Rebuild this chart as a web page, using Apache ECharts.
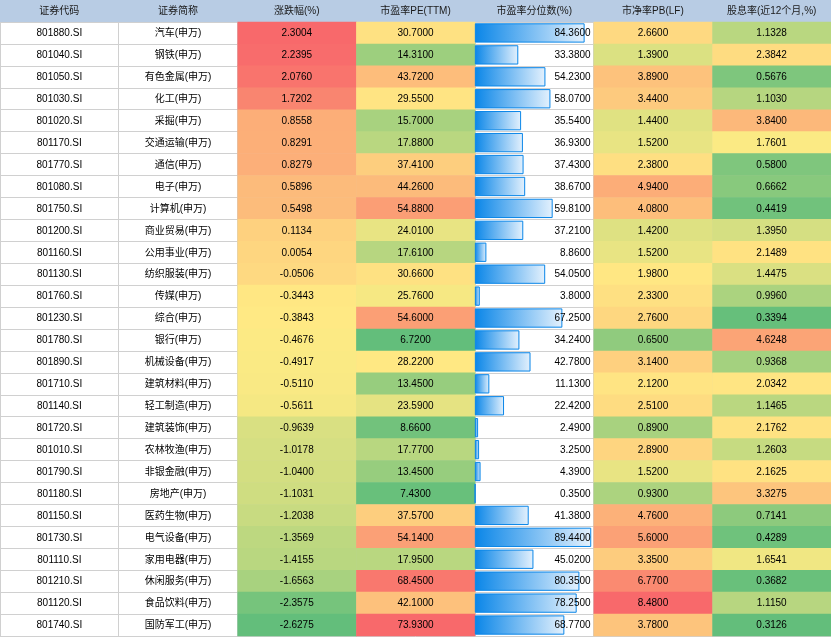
<!DOCTYPE html>
<html><head><meta charset="utf-8">
<script src="https://cdn.jsdelivr.net/npm/echarts@6/dist/echarts.min.js"></script>
<style>html,body{margin:0;padding:0;background:#fff}#c{width:831px;height:638px}</style>
</head><body><div id="c"></div>
<script>
const headers = ['证券代码','证券简称','涨跌幅(%)','市盈率PE(TTM)','市盈率分位数(%)','市净率PB(LF)','股息率(近12个月,%)'];
const codes = ['801880.SI','801040.SI','801050.SI','801030.SI','801020.SI','801170.SI','801770.SI','801080.SI','801750.SI','801200.SI','801160.SI','801130.SI','801760.SI','801230.SI','801780.SI','801890.SI','801710.SI','801140.SI','801720.SI','801010.SI','801790.SI','801180.SI','801150.SI','801730.SI','801110.SI','801210.SI','801120.SI','801740.SI'];
const names = ['汽车(申万)','钢铁(申万)','有色金属(申万)','化工(申万)','采掘(申万)','交通运输(申万)','通信(申万)','电子(申万)','计算机(申万)','商业贸易(申万)','公用事业(申万)','纺织服装(申万)','传媒(申万)','综合(申万)','银行(申万)','机械设备(申万)','建筑材料(申万)','轻工制造(申万)','建筑装饰(申万)','农林牧渔(申万)','非银金融(申万)','房地产(申万)','医药生物(申万)','电气设备(申万)','家用电器(申万)','休闲服务(申万)','食品饮料(申万)','国防军工(申万)'];
const change = [2.3004,2.2395,2.0760,1.7202,0.8558,0.8291,0.8279,0.5896,0.5498,0.1134,0.0054,-0.0506,-0.3443,-0.3843,-0.4676,-0.4917,-0.5110,-0.5611,-0.9639,-1.0178,-1.0400,-1.1031,-1.2038,-1.3569,-1.4155,-1.6563,-2.3575,-2.6275];
const pe = [30.70,14.31,43.72,29.55,15.70,17.88,37.41,44.26,54.88,24.01,17.61,30.66,25.76,54.60,6.72,28.22,13.45,23.59,8.66,17.77,13.45,7.43,37.57,54.14,17.95,68.45,42.10,73.93];
const pePct = [84.36,33.38,54.23,58.07,35.54,36.93,37.43,38.67,59.81,37.21,8.86,54.05,3.80,67.25,34.24,42.78,11.13,22.42,2.49,3.25,4.39,0.35,41.38,89.44,45.02,80.35,78.25,68.77];
const pb = [2.66,1.39,3.89,3.44,1.44,1.52,2.38,4.94,4.08,1.42,1.52,1.98,2.33,2.76,0.65,3.14,2.12,2.51,0.89,2.89,1.52,0.93,4.76,5.60,3.35,6.77,8.48,3.78];
const dividend = [1.1328,2.3842,0.5676,1.1030,3.8400,1.7601,0.5800,0.6662,0.4419,1.3950,2.1489,1.4475,0.9960,0.3394,4.6248,0.9368,2.0342,1.1465,2.1762,1.2603,2.1625,3.3275,0.7141,0.4289,1.6541,0.3682,1.1150,0.3126];

const GREEN=[99,190,123], YELLOW=[255,235,132], RED=[248,105,107];
function median(a){const s=[...a].sort((x,y)=>x-y);const n=s.length;return n%2?s[(n-1)/2]:(s[n/2-1]+s[n/2])/2;}
function mix(a,b,t){return 'rgb('+a.map((v,i)=>Math.round(v+(b[i]-v)*t)).join(',')+')';}
function colorScale(lo,mid,hi){
  return function(v){
    if(v<=mid){const t=Math.max(0,Math.min(1,(v-lo)/(mid-lo)));return mix(GREEN,YELLOW,t);}
    const t=Math.max(0,Math.min(1,(v-mid)/(hi-mid)));return mix(YELLOW,RED,t);
  };
}
const scales = {
  change: colorScale(Math.min(...change), median(change), Math.max(...change)),
  pe: colorScale(Math.min(...pe), median(pe), Math.max(...pe)),
  pb: colorScale(0.2, 1.75, Math.max(...pb)),
  dividend: colorScale(Math.min(...dividend), 1.8, 7.0)
};

const FONT = '10px "Liberation Sans", "Noto Sans CJK SC", sans-serif';
function cellSeries(col, values, fmt, colorFn, align){
  return {
    type:'custom', xAxisIndex:0, yAxisIndex:0, z: align==='right'?10:3,
    data: values.map((v,i)=>[col,i,v]),
    renderItem:function(params, api){
      const p = api.coord([api.value(0), api.value(1)]);
      const s = api.size([1,1]);
      const raw = values[params.dataIndex];
      const children = [];
      if(colorFn){
        children.push({type:'rect', shape:{x:p[0]-s[0]/2, y:p[1]-s[1]/2-0.3, width:s[0]+0.5, height:s[1]+0.6}, style:{fill:colorFn(raw)}});
      }
      const tx = align==='right' ? p[0]+s[0]/2-3 : p[0];
      children.push({type:'text', style:{x:tx, y:p[1]+0.5, text:fmt(raw), align:align||'center', verticalAlign:'middle', font:FONT, fill:'#000'}});
      return {type:'group', children};
    }
  };
}
const f4 = v=>Number(v).toFixed(4);
const chart = echarts.init(document.getElementById('c'), null, {renderer:'canvas'});
const W = chart.getWidth();
const option = {
  animation:false,
  backgroundColor:'#fff',
  graphic:[{type:'rect', left:0, top:0, z:-10, shape:{width:W, height:22}, style:{fill:'#B8CCE4'}}],
  grid:[
    {left:0, right:0, top:22, bottom:2},
    {left:(4/7*100)+'%', right:(2/7*100)+'%', top:22, bottom:2}
  ],
  xAxis:[
    {type:'category', gridIndex:0, position:'top', data:headers,
     axisLine:{show:false}, axisTick:{show:false},
     axisLabel:{show:true, margin:6, fontSize:10, color:'#1a1a1a', fontFamily:'"Liberation Sans", "Noto Sans CJK SC", sans-serif'},
     splitLine:{show:true, lineStyle:{color:'#d0d0d0', width:1}}},
    {type:'value', gridIndex:1, min:0, max:Math.max(...pePct)*1.02, show:false}
  ],
  yAxis:[
    {type:'category', gridIndex:0, inverse:true, data:codes,
     axisLine:{show:false}, axisTick:{show:false}, axisLabel:{show:false},
     splitLine:{show:true, lineStyle:{color:'#d0d0d0', width:1}}},
    {type:'category', gridIndex:1, inverse:true, data:codes, show:false}
  ],
  series:[
    cellSeries(0, codes, v=>v, null),
    cellSeries(1, names, v=>v, null),
    cellSeries(2, change, f4, scales.change),
    cellSeries(3, pe, f4, scales.pe),
    {type:'bar', xAxisIndex:1, yAxisIndex:1, data:pePct, barWidth:'88%', z:5,
     itemStyle:{color:new echarts.graphic.LinearGradient(0,0,1,0,[{offset:0,color:'#0A86E8'},{offset:1,color:'#E4F1FD'}]),
       borderColor:'#0A86E8', borderWidth:1}},
    cellSeries(4, pePct, f4, null, 'right'),
    cellSeries(5, pb, f4, scales.pb),
    cellSeries(6, dividend, f4, scales.dividend)
  ]
};
chart.setOption(option);
</script></body></html>
